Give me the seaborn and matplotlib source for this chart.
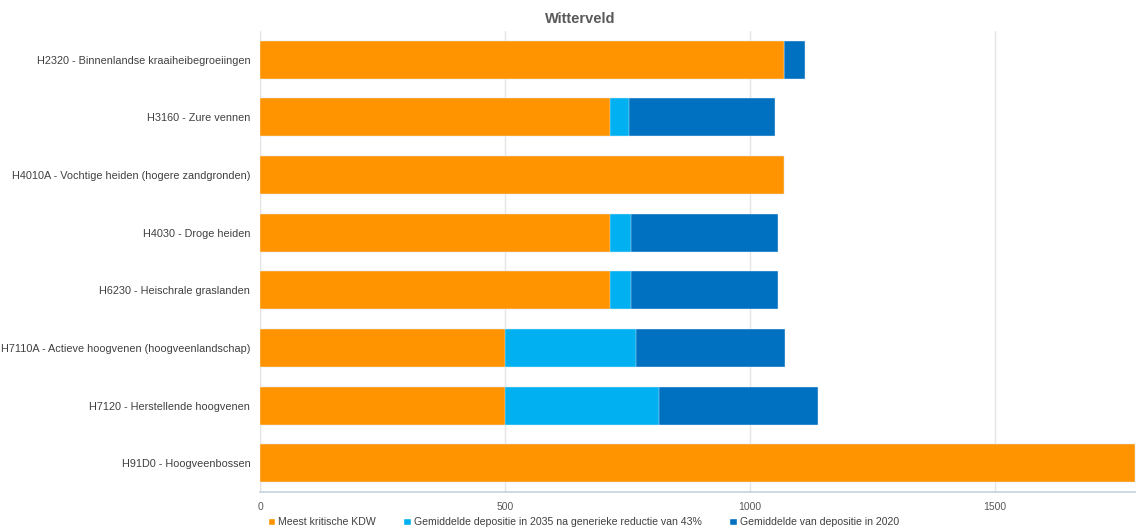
import matplotlib
matplotlib.use('Agg')
import matplotlib.pyplot as plt
from matplotlib.ticker import MultipleLocator
from matplotlib.patches import Patch
import seaborn as sns
import pandas as pd

habitats = [
    'H2320 - Binnenlandse kraaiheibegroeiingen',
    'H3160 - Zure vennen',
    'H4010A - Vochtige heiden (hogere zandgronden)',
    'H4030 - Droge heiden',
    'H6230 - Heischrale graslanden',
    'H7110A - Actieve hoogvenen (hoogveenlandschap)',
    'H7120 - Herstellende hoogvenen',
    'H91D0 - Hoogveenbossen',
]
kdw = [1070, 714, 1070, 714, 714, 500, 500, 1785]
dep_2035 = [0, 39, 0, 43, 43, 267, 315, 0]
dep_2020 = [42, 299, 0, 300, 300, 304, 323, 0]

series_names = ['Meest kritische KDW',
                'Gemiddelde depositie in 2035 na generieke reductie van 43%',
                'Gemiddelde van depositie in 2020']
colors = ['#FF9300', '#00B0F0', '#0070C0']

df = pd.DataFrame({'habitat': habitats, 'kdw': kdw, 'd2035': dep_2035, 'd2020': dep_2020})
df['c1'] = df['kdw']
df['c2'] = df['c1'] + df['d2035']
df['c3'] = df['c2'] + df['d2020']

sns.set_style('white')
plt.rcParams['font.family'] = ['Liberation Sans', 'DejaVu Sans']

fig = plt.figure(figsize=(11.36, 5.32), dpi=100)
ax = fig.add_axes([260 / 1136, 40 / 532, 876 / 1136, 461 / 532])

# draw cumulative totals back to front so they look stacked
for col, c in zip(['c3', 'c2', 'c1'], colors[::-1]):
    sns.barplot(data=df, x=col, y='habitat', color=c, orient='h', width=0.66,
                edgecolor='#e8f2fa', linewidth=0.3, saturation=1, ax=ax, zorder=3)

ax.set_xlim(0, 1788)
ax.set_ylim(7.5, -0.5)
ax.set_xlabel('')
ax.set_ylabel('')
ax.xaxis.set_major_locator(MultipleLocator(500))
ax.xaxis.set_minor_locator(MultipleLocator(100))
ax.grid(axis='x', which='major', color='#e4e4e4', linewidth=1, zorder=0)
for s in ['top', 'right']:
    ax.spines[s].set_visible(False)
ax.spines['left'].set_color('#e4e4e4')
ax.spines['bottom'].set_color('#c3d3df')
ax.spines['bottom'].set_linewidth(1.2)
ax.tick_params(axis='x', which='major', direction='inout', length=5, color='#b8c8d4',
               labelsize=7.5, labelcolor='#595959', pad=5)
ax.tick_params(axis='x', which='minor', direction='inout', length=3, color='#b8c8d4')
ax.tick_params(axis='y', length=0, labelsize=7.8, labelcolor='#404040', pad=7)

fig.text(580 / 1136, 0.965, 'Witterveld', ha='center', va='center', fontsize=10.5,
         fontweight='bold', color='#595959')

handles = [Patch(facecolor=c, label=n) for c, n in zip(colors, series_names)]
fig.legend(handles=handles, loc='center left', bbox_to_anchor=(258 / 1136, 1 - 522 / 532),
           ncol=3, frameon=False, fontsize=7.6, handlelength=0.7, handleheight=0.7,
           handletextpad=0.3, columnspacing=2.6, labelcolor='#404040')

fig.savefig('out.png', dpi=100)
